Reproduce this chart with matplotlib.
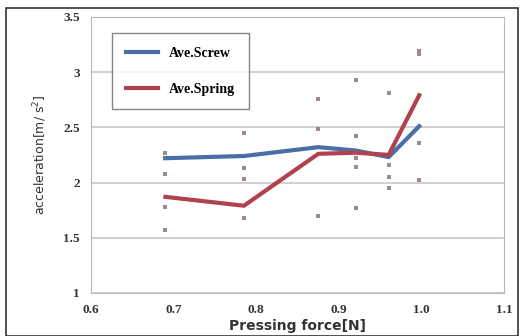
import matplotlib.pyplot as plt
from matplotlib.patches import Rectangle

# pressing force levels [N]
force = [0.69, 0.785, 0.875, 0.92, 0.96, 0.997]

# averaged acceleration per force level [m/s^2]
ave_screw = [2.22, 2.24, 2.32, 2.29, 2.23, 2.51]
ave_spring = [1.87, 1.79, 2.26, 2.27, 2.25, 2.79]

# individual trials
trial_x = [0.69, 0.69, 0.69, 0.69, 0.69,
           0.785, 0.785, 0.785, 0.785,
           0.875, 0.875, 0.875,
           0.92, 0.92, 0.92, 0.92, 0.92,
           0.96, 0.96, 0.96, 0.96,
           0.997, 0.997, 0.997, 0.997]
trial_y = [2.27, 2.22, 2.08, 1.78, 1.57,
           2.45, 2.13, 2.03, 1.68,
           2.76, 2.48, 1.70,
           2.93, 2.42, 2.22, 2.14, 1.77,
           2.81, 2.16, 2.05, 1.95,
           3.19, 3.16, 2.36, 2.02]

fig = plt.figure(figsize=(5.2, 3.36), dpi=100)
fig.patches.append(Rectangle((0.012, 0.0), 0.985, 0.975, transform=fig.transFigure,
                             fill=False, edgecolor='#333333', linewidth=1.2))
ax = fig.add_axes([0.175, 0.128, 0.795, 0.822])

ax.scatter(trial_x, trial_y, s=5, marker='s', color='#a08a90', zorder=2, linewidths=0)
ax.plot(force, ave_screw, color='#4a6fa5', linewidth=3, label='Ave.Screw', zorder=3)
ax.plot(force, ave_spring, color='#b0424f', linewidth=3, label='Ave.Spring', zorder=4)

ax.set_xlim(0.6, 1.1)
ax.set_ylim(1, 3.5)
ax.set_xticks([0.6, 0.7, 0.8, 0.9, 1.0, 1.1])
ax.set_xticklabels(['0.6', '0.7', '0.8', '0.9', '1.0', '1.1'])
ax.set_yticks([1, 1.5, 2, 2.5, 3, 3.5])
ax.set_yticklabels(['1', '1.5', '2', '2.5', '3', '3.5'])
ax.grid(axis='y', color='#c8c8c8', linewidth=1.2)
ax.set_axisbelow(True)
for s in ax.spines.values():
    s.set_color('#b8b8b8')
ax.tick_params(length=0, pad=8, labelcolor='#333333')
for lbl in ax.get_xticklabels() + ax.get_yticklabels():
    lbl.set_fontfamily('Liberation Serif')
    lbl.set_fontweight('bold')
    lbl.set_fontsize(9.5)

ax.set_xlabel('Pressing force[N]', fontsize=10, fontweight='bold', color='#333333', labelpad=2)
ax.set_ylabel('acceleration[m/ s$^2$]', fontsize=9, color='#333333', labelpad=10)

leg = ax.legend(loc='upper left', bbox_to_anchor=(0.035, 0.965), frameon=True, fancybox=False,
                edgecolor='#666666', prop={'family': 'Liberation Serif', 'weight': 'bold', 'size': 10},
                handlelength=2.3, labelspacing=1.6, borderpad=1.0)

fig.savefig('out.png', dpi=100)
